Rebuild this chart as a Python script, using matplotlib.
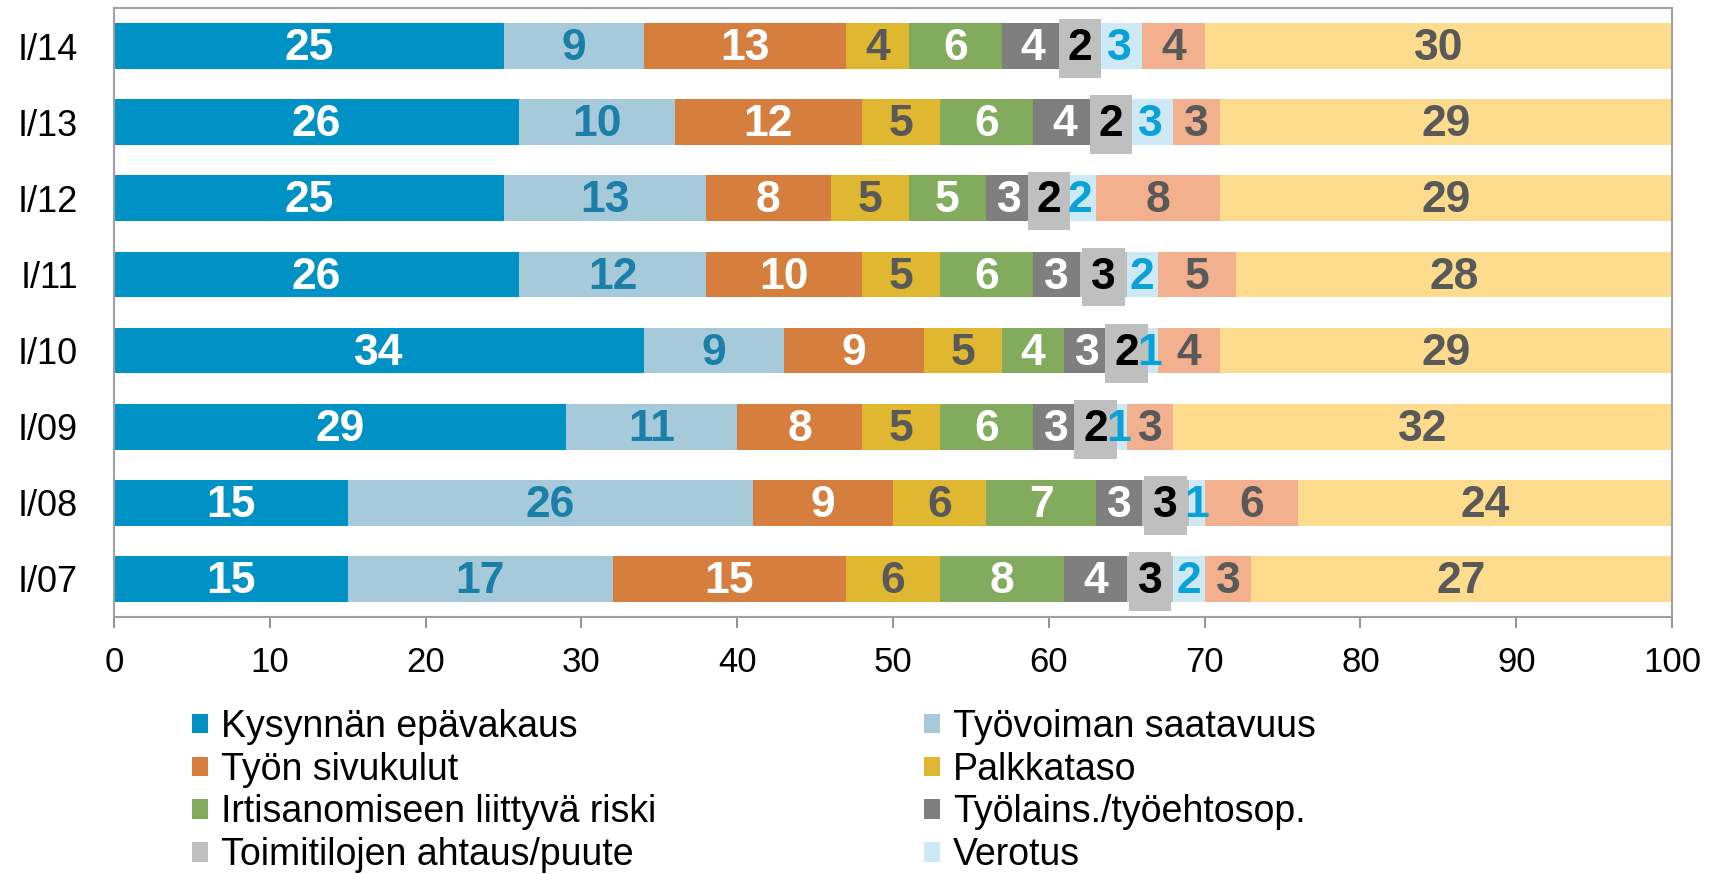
import matplotlib
matplotlib.use("Agg")
import matplotlib.pyplot as plt
import numpy as np

plt.rcParams['font.family'] = ['Liberation Sans', 'DejaVu Sans']

# data, top row first
periods = ['I/14', 'I/13', 'I/12', 'I/11', 'I/10', 'I/09', 'I/08', 'I/07']
series = ['Kysynnän epävakaus', 'Työvoiman saatavuus', 'Työn sivukulut',
          'Palkkataso', 'Irtisanomiseen liittyvä riski', 'Työlains./työehtosop.',
          'Toimitilojen ahtaus/puute', 'Verotus', 'Muu', 'Ei esteitä']
kysynta   = [25, 26, 25, 26, 34, 29, 15, 15]
tyovoima  = [9, 10, 13, 12, 9, 11, 26, 17]
sivukulut = [13, 12, 8, 10, 9, 8, 9, 15]
palkka    = [4, 5, 5, 5, 5, 5, 6, 6]
irtisanom = [6, 6, 5, 6, 4, 6, 7, 8]
tyolains  = [4, 4, 3, 3, 3, 3, 3, 4]
toimitila = [2, 2, 2, 3, 2, 2, 3, 3]
verotus   = [3, 3, 2, 2, 1, 1, 1, 2]
muu       = [4, 3, 8, 5, 4, 3, 6, 3]
ei_esteita = [30, 29, 29, 28, 29, 32, 24, 27]

values = [kysynta, tyovoima, sivukulut, palkka, irtisanom,
          tyolains, toimitila, verotus, muu, ei_esteita]
colors = ['#0091C5', '#A7CADB', '#D67E3E', '#E0B730', '#82AB5E',
          '#7F7F7F', '#BFBFBF', '#CDE9F5', '#F3B08F', '#FDDC8D']
label_colors = ['white', '#1B7FA8', 'white', '#595959', 'white',
                'white', 'black', '#0AA0D8', '#595959', '#595959']

fig = plt.figure(figsize=(17.19, 8.74), dpi=100)
W, H = 1719, 874
ax = fig.add_axes([114 / W, 1 - 617 / H, (1672 - 114) / W, (617 - 8) / H])

y = np.arange(len(periods))
left = np.zeros(len(periods))
bars = []
for i, vals in enumerate(values):
    vals = np.array(vals, dtype=float)
    b = ax.barh(y, vals, left=left, height=0.6, color=colors[i],
                label=series[i], zorder=2)
    bars.append(b)
    for yy, l, v in zip(y, left, vals):
        kw = dict(ha='center', va='center', fontsize=32, fontweight='bold',
                  color=label_colors[i], zorder=5)
        if i == 6:
            # grey label box drawn over the bar
            kw['bbox'] = dict(boxstyle='square,pad=0.2', fc=colors[i], ec='none')
        ax.text(l + v / 2, yy + 0.035, f'{int(v)}', **kw)
    left += vals

ax.set_xlim(0, 100)
ax.set_ylim(len(periods) - 0.5, -0.5)
ax.set_yticks(y)
ax.set_yticklabels(periods, fontsize=26)
ax.set_xticks(np.arange(0, 101, 10))
ax.tick_params(axis='x', labelsize=25, length=8, width=1.2, color='#808080',
               direction='out', pad=13)
ax.tick_params(axis='y', length=0, pad=26)
for s in ax.spines.values():
    s.set_color('#A0A0A0')
    s.set_linewidth(1.5)

leg_kw = dict(frameon=False, fontsize=27, handlelength=0.42, handleheight=0.42,
              handletextpad=0.35, labelspacing=0.18, borderaxespad=0, borderpad=0)
fig.legend([bars[0], bars[2], bars[4], bars[6]],
           [series[0], series[2], series[4], series[6]],
           loc='upper left', bbox_to_anchor=(192 / W, 1 - 709 / H), **leg_kw)
fig.legend([bars[1], bars[3], bars[5], bars[7]],
           [series[1], series[3], series[5], series[7]],
           loc='upper left', bbox_to_anchor=(924 / W, 1 - 709 / H), **leg_kw)

fig.savefig('out.png', dpi=100)
